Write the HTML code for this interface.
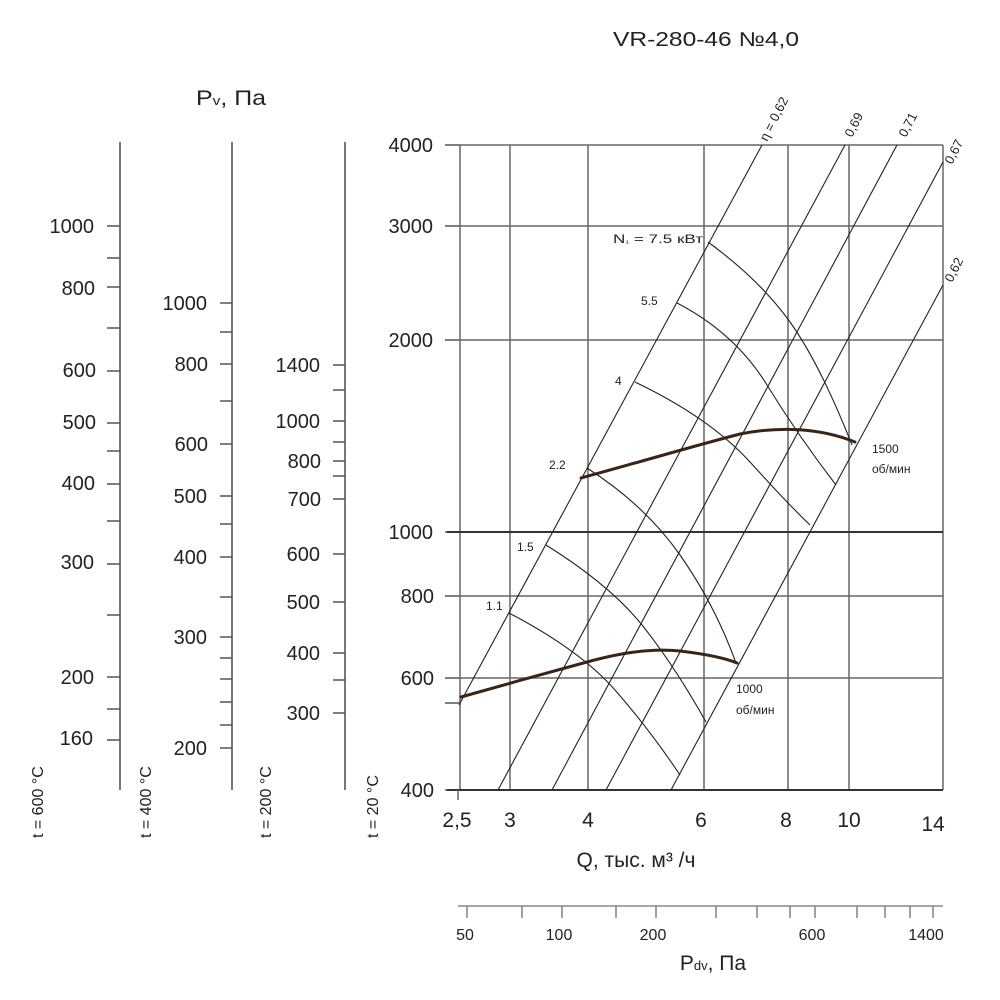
<!DOCTYPE html>
<html><head><meta charset="utf-8"><style>
html,body{margin:0;padding:0;background:#fff}
svg{display:block}
text{font-family:"Liberation Sans",sans-serif;fill:#222}
</style></head><body>
<svg width="1000" height="1000" viewBox="0 0 1000 1000" xmlns="http://www.w3.org/2000/svg">
<text x="706" y="46" font-size="20" text-anchor="middle" textLength="186" lengthAdjust="spacingAndGlyphs">VR-280-46 №4,0</text>
<text x="196" y="105" font-size="21" textLength="70" lengthAdjust="spacingAndGlyphs">P<tspan font-size="13">v</tspan>, Па</text>

<g stroke="#555" stroke-width="1.6" fill="none">
<line x1="120" y1="142" x2="120" y2="790"/>
<line x1="232" y1="142" x2="232" y2="790"/>
<line x1="345" y1="142" x2="345" y2="790"/>
<path d="M107 226H120M107 258H120M107 287H120M107 328H120M107 371H120M107 423H120M107 451H120M107 484H120M107 521H120M107 564H120M107 615H120M107 677H120M107 709H120M107 740H120"/>
<path d="M220 303H232M220 332H232M220 364H232M220 401H232M220 444H232M220 496H232M220 524H232M220 557H232M220 597H232M220 637H232M220 658H232M220 679H232M220 702H232M220 725H232M220 748H232"/>
<path d="M333 365H345M333 390H345M333 421H345M333 442H345M333 461H345M333 476H345M333 499H345M333 554H345M333 602H345M333 653H345M333 680H345M333 713H345"/>
<path d="M445 145H460M445 226H460M445 340H460M445 532H460M445 596H460M445 678H460M445 703H460M445 790H460"/>
</g>
<g font-size="20" text-anchor="end">
<text x="94" y="233">1000</text><text x="95" y="295">800</text><text x="96" y="377">600</text><text x="96" y="429">500</text><text x="95" y="490">400</text><text x="94" y="569">300</text><text x="94" y="684">200</text><text x="93" y="745">160</text>
<text x="207" y="310">1000</text><text x="208" y="371">800</text><text x="208" y="451">600</text><text x="207" y="503">500</text><text x="207" y="564">400</text><text x="207" y="644">300</text><text x="207" y="755">200</text>
<text x="320" y="372">1400</text><text x="320" y="428">1000</text><text x="321" y="468">800</text><text x="321" y="506">700</text><text x="320" y="561">600</text><text x="320" y="609">500</text><text x="320" y="660">400</text><text x="320" y="720">300</text>
<text x="433" y="152">4000</text><text x="433" y="233">3000</text><text x="433" y="347">2000</text><text x="433" y="539">1000</text><text x="434" y="603">800</text><text x="434" y="685">600</text><text x="434" y="797">400</text>
</g>
<g font-size="16">
<text transform="translate(43,838) rotate(-90)">t = 600 °C</text>
<text transform="translate(151,838) rotate(-90)">t = 400 °C</text>
<text transform="translate(271,838) rotate(-90)">t = 200 °C</text>
<text transform="translate(378,838) rotate(-90)">t = 20 °C</text>
</g>

<g stroke="#666" stroke-width="1.5" fill="none">
<path d="M460 145V790M510 145V790M588 145V790M704 145V790M788 145V790M849 145V790M943 145V790"/>
<path d="M460 145H943M460 226H943M460 340H943M460 596H943M460 678H943"/>
</g>
<path d="M447 532H943M447 790H943" stroke="#333" stroke-width="2"/>
<g stroke="#666" stroke-width="1.5"><line x1="458" y1="790" x2="458" y2="800"/></g>

<g stroke="#222" stroke-width="1.1" fill="none">
<line x1="762" y1="145" x2="459" y2="705"/>
<line x1="845" y1="145" x2="498" y2="790"/>
<line x1="897" y1="145" x2="552" y2="790"/>
<line x1="943" y1="162" x2="606" y2="790"/>
<line x1="943" y1="285" x2="671" y2="790"/>
</g>
<g stroke="#222" stroke-width="1.1" fill="none">
<path d="M708 242 Q760 280 790 322 T852 445"/>
<path d="M677 303 Q735 333 767 385 T836 485"/>
<path d="M635 382 Q710 418 750 462 T810 525"/>
<path d="M587 468 Q645 505 680 555 T736 663"/>
<path d="M546 545 Q610 585 642 625 T706 722"/>
<path d="M509 613 Q580 650 615 690 T680 775"/>
</g>
<g stroke="#3a2418" stroke-width="3" fill="none" stroke-linecap="round">
<path d="M581 478 C640 462 690 447 740 434 C780 426 820 428 855 442"/>
<path d="M461 697 C500 686 550 672 587 662 C620 653 650 648 680 651 C705 654 725 658 737 663"/>
</g>

<g font-size="12">
<text x="613" y="243" textLength="90" lengthAdjust="spacingAndGlyphs">N<tspan font-size="8">₁</tspan> = 7.5 кВт</text>
<text x="641" y="305">5.5</text>
<text x="615" y="385">4</text>
<text x="549" y="469">2.2</text>
<text x="517" y="551">1.5</text>
<text x="486" y="610">1.1</text>
<text x="872" y="453">1500</text><text x="872" y="473">об/мин</text>
<text x="736" y="693">1000</text><text x="736" y="714">об/мин</text>
</g>
<g font-size="13">
<text transform="translate(767,142) rotate(-63)">η = 0,62</text>
<text transform="translate(852,138) rotate(-63)">0,69</text>
<text transform="translate(906,138) rotate(-63)">0,71</text>
<text transform="translate(952,165) rotate(-63)">0,67</text>
<text transform="translate(952,283) rotate(-63)">0,62</text>
</g>

<g font-size="21" text-anchor="middle">
<text x="457" y="827">2,5</text><text x="510" y="827">3</text><text x="588" y="827">4</text><text x="701" y="827">6</text><text x="786" y="827">8</text><text x="849" y="827">10</text><text x="933" y="831">14</text>
</g>
<text x="636" y="867" font-size="21" text-anchor="middle">Q, тыс. м³ /ч</text>

<g stroke="#888" stroke-width="1.6" fill="none">
<line x1="458" y1="906" x2="943" y2="906"/>
<path d="M467 906V918M522 906V918M562 906V918M616 906V918M656 906V918M716 906V918M757 906V918M790 906V918M815 906V918M857 906V918M885 906V918M910 906V918M933 906V918"/>
</g>
<g font-size="16" text-anchor="middle">
<text x="465" y="940">50</text><text x="559" y="940">100</text><text x="653" y="940">200</text><text x="812" y="940">600</text><text x="926" y="940">1400</text>
</g>
<text x="713" y="970" font-size="21" text-anchor="middle">P<tspan font-size="13">dv</tspan>, Па</text>
</svg>
</body></html>
